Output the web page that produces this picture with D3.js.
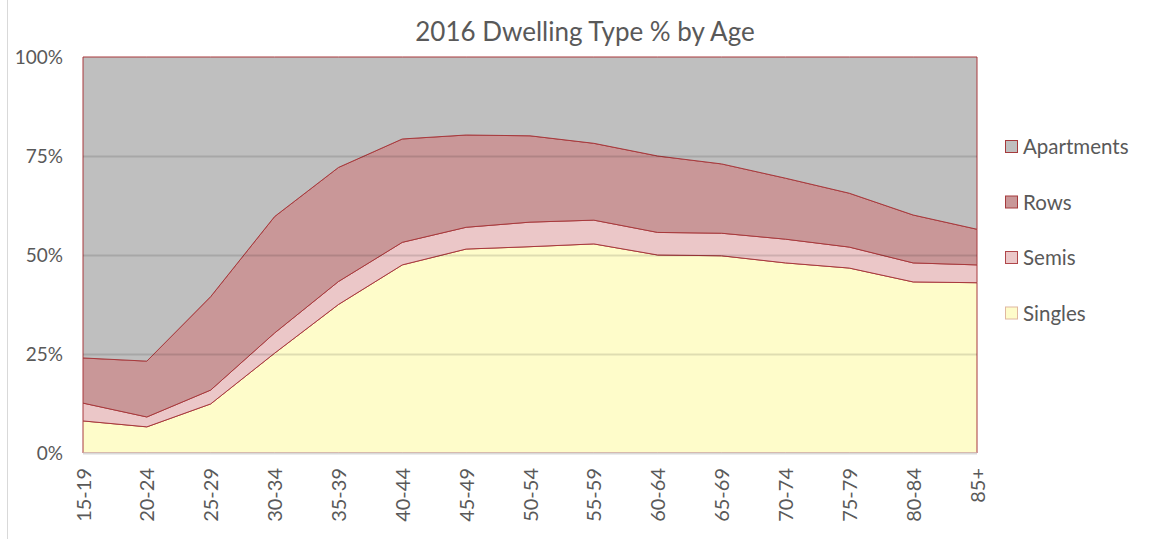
<!doctype html>
<html lang="en">
<head>
<meta charset="UTF-8">
<title>2016 Dwelling Type % by Age</title>
<style>
  body { margin: 0; background: #fff; }
  svg text { font-family: Lato, "Open Sans", sans-serif; fill: #595959; }
</style>
</head>
<body>
<svg id="chart" width="1151" height="539"></svg>
<script src="https://d3js.org/d3.v7.min.js"></script>
<script>
// age groups along the x axis
var ages = ["15-19","20-24","25-29","30-34","35-39","40-44","45-49","50-54",
            "55-59","60-64","65-69","70-74","75-79","80-84","85+"];

// share of each dwelling type (%)
var singles    = [8.1, 6.6, 12.4, 25.2, 37.5, 47.5, 51.5, 52.1, 52.8, 50.0, 49.8, 48.0, 46.7, 43.2, 43.0];
var semis      = [4.5, 2.5, 3.5, 5.1, 5.8, 5.7, 5.5, 6.2, 6.0, 5.7, 5.7, 6.0, 5.3, 4.8, 4.5];
var rows       = [11.4, 14.1, 23.6, 29.4, 28.8, 26.1, 23.3, 21.8, 19.4, 19.3, 17.5, 15.4, 13.6, 12.1, 9.0];
var apartments = [76.0, 76.8, 60.5, 40.3, 27.9, 20.7, 19.7, 19.9, 21.8, 25.0, 27.0, 30.6, 34.4, 39.9, 43.5];

var seriesNames = ["Singles", "Semis", "Rows", "Apartments"];
var yTicks = [0, 0.25, 0.5, 0.75, 1];

var colors = {
  Singles: "#fefcca",
  Semis: "#ebc7c8",
  Rows: "#c99798",
  Apartments: "#bfbfbf"
};
var legendStroke = {
  Singles: "#e0b8a0",
  Semis: "#b0474a",
  Rows: "#a53a3c",
  Apartments: "#a53a3c"
};

var table = ages.map(function(a, i) {
  return { age: a, Singles: singles[i], Semis: semis[i], Rows: rows[i], Apartments: apartments[i] };
});

var margin = { left: 83, right: 174, top: 57, bottom: 86 };
var svg = d3.select("#chart");
var W = +svg.attr("width"), H = +svg.attr("height");

var x = d3.scalePoint().domain(ages).range([margin.left, W - margin.right]);
var y = d3.scaleLinear().domain([0, 1]).range([H - margin.bottom, margin.top]);

var stacked = d3.stack().keys(seriesNames).offset(d3.stackOffsetExpand)(table);

// outer chart border (left edge visible in the picture)
svg.append("line")
  .attr("x1", 7.5).attr("x2", 7.5).attr("y1", 0).attr("y2", H)
  .attr("stroke", "#d9d9d9");

// title
svg.append("text")
  .attr("x", 585).attr("y", 41)
  .attr("text-anchor", "middle")
  .style("font-size", "26px")
  .text("2016 Dwelling Type % by Age");

var area = d3.area()
  .x(function(d) { return x(d.data.age); })
  .y0(function(d) { return y(d[0]); })
  .y1(function(d) { return y(d[1]); });

svg.append("g").selectAll("path")
  .data(stacked)
  .join("path")
  .attr("d", area)
  .attr("fill", function(d) { return colors[d.key]; })
  .attr("stroke", "#a8393c")
  .attr("stroke-width", 1)
  .attr("stroke-linejoin", "round");

// gridlines drawn over the areas, faint
svg.append("g").selectAll("line")
  .data(yTicks.filter(function(t) { return t > 0 && t < 1; }))
  .join("line")
  .attr("x1", x.range()[0]).attr("x2", x.range()[1])
  .attr("y1", function(d) { return Math.round(y(d)) + 0.5; })
  .attr("y2", function(d) { return Math.round(y(d)) + 0.5; })
  .attr("stroke", "rgba(0,0,0,0.12)")
  .attr("stroke-width", 2);

// bottom axis line
svg.append("line")
  .attr("x1", x.range()[0]).attr("x2", x.range()[1])
  .attr("y1", y(0) + 0.5).attr("y2", y(0) + 0.5)
  .attr("stroke", "#d9d9d9").attr("stroke-width", 2);

// y axis labels
var yAxis = d3.axisLeft(y).tickValues(yTicks).tickFormat(d3.format(".0%")).tickSize(0).tickPadding(20);
var gy = svg.append("g").attr("transform", "translate(" + margin.left + ",0)").call(yAxis);
gy.select(".domain").remove();
gy.selectAll("text").style("font-size", "19px").attr("fill", "#595959");

// x axis labels, rotated
var xAxis = d3.axisBottom(x).tickSize(0).tickPadding(0);
var gx = svg.append("g").attr("transform", "translate(0," + y(0) + ")").call(xAxis);
gx.select(".domain").remove();
gx.selectAll("text")
  .style("font-size", "20px")
  .attr("fill", "#595959")
  .attr("text-anchor", "end")
  .attr("transform", "rotate(-90)")
  .attr("x", -15).attr("y", 0).attr("dy", "0.35em");

// legend
var legendNames = seriesNames.slice().reverse();
var lg = svg.append("g").selectAll("g")
  .data(legendNames)
  .join("g")
  .attr("transform", function(d, i) { return "translate(1000," + (147 + i * 55.5) + ")"; });
lg.append("rect")
  .attr("x", 5.5).attr("y", -6.5).attr("width", 12).attr("height", 12)
  .attr("fill", function(d) { return colors[d]; })
  .attr("stroke", function(d) { return legendStroke[d]; });
lg.append("text")
  .attr("x", 23).attr("y", 0).attr("dy", "0.35em")
  .style("font-size", "20.5px")
  .text(function(d) { return d; });
</script>
</body>
</html>
